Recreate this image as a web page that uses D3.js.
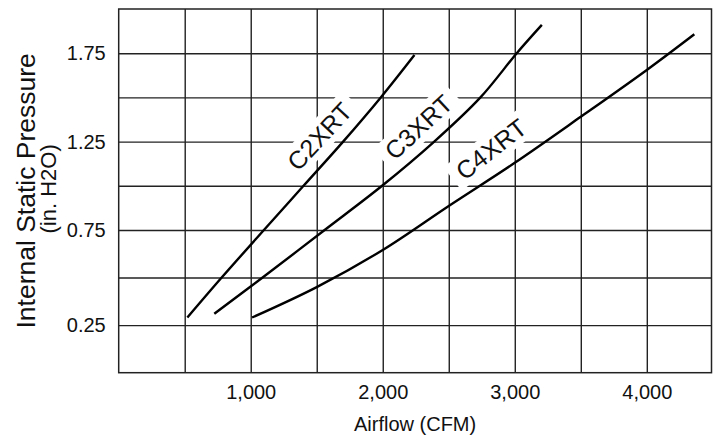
<!DOCTYPE html>
<html>
<head>
<meta charset="utf-8">
<script src="https://cdn.jsdelivr.net/npm/d3@7"></script>
<style>
  html, body { margin: 0; padding: 0; background: #fff; }
  svg { display: block; font-family: "Liberation Sans", Arial, Helvetica, sans-serif; }
</style>
</head>
<body>
<svg id="chart" width="717" height="438"></svg>
<script>
// ---- data ----
const c2xrtCfm = [520, 780, 1100, 1400, 1700, 1985, 2240];
const c2xrtPressure = [0.29, 0.5, 0.75, 1.0, 1.25, 1.5, 1.74];
const c3xrtCfm = [724, 1090, 1560, 1995, 2390, 2740, 3015, 3205];
const c3xrtPressure = [0.31, 0.5, 0.75, 1.0, 1.25, 1.5, 1.75, 1.91];
const c4xrtCfm = [1010, 1500, 2000, 2500, 3000, 3500, 4000, 4360];
const c4xrtPressure = [0.29, 0.45, 0.645, 0.886, 1.13, 1.39, 1.655, 1.857];
const seriesNames = ["C2XRT", "C3XRT", "C4XRT"];
const xTickValues = [1000, 2000, 3000, 4000];
const yTickValues = [0.25, 0.75, 1.25, 1.75];
const xGridValues = [500, 1000, 1500, 2000, 2500, 3000, 3500, 4000];
const yGridValues = [0.25, 0.5, 0.75, 1.0, 1.25, 1.5, 1.75];
const xTitle = "Airflow (CFM)";
const yTitle = "Internal Static Pressure";
const ySubTitle = "(in. H2O)";

// ---- layout ----
const L = 118.7, R = 711.5, T = 9, B = 372.7;
const svg = d3.select("#chart");

const x = d3.scaleLinear().domain([0, 4490]).range([L, R]);
// the drawn grid rows are slightly uneven in the original: lower rows taller
const y = d3.scaleLinear().domain([0, 0.75, 2.0]).range([B, 230, T]);

const gridColor = "#222";
const textColor = "#111";

// grid
svg.append("g")
  .attr("transform", `translate(0,${B})`)
  .call(d3.axisBottom(x).tickValues(xGridValues).tickSize(-(B - T)).tickFormat(""))
  .call(g => g.select(".domain").remove())
  .call(g => g.selectAll("line").attr("stroke", gridColor).attr("stroke-width", 1.4));
svg.append("g")
  .attr("transform", `translate(${L},0)`)
  .call(d3.axisLeft(y).tickValues(yGridValues).tickSize(-(R - L)).tickFormat(""))
  .call(g => g.select(".domain").remove())
  .call(g => g.selectAll("line").attr("stroke", gridColor).attr("stroke-width", 1.4));

// frame
svg.append("rect")
  .attr("x", L).attr("y", T).attr("width", R - L).attr("height", B - T)
  .attr("fill", "none").attr("stroke", gridColor).attr("stroke-width", 1.5);

// tick labels
svg.append("g")
  .attr("transform", `translate(0,${B})`)
  .call(d3.axisBottom(x).tickValues(xTickValues).tickSize(0).tickPadding(12).tickFormat(d3.format(",")))
  .call(g => g.select(".domain").remove())
  .call(g => g.selectAll("text").attr("font-size", 20).attr("fill", textColor)
    .attr("font-family", "Liberation Sans, Arial, sans-serif"));
svg.append("g")
  .attr("transform", `translate(${L},0)`)
  .call(d3.axisLeft(y).tickValues(yTickValues).tickSize(0).tickPadding(13).tickFormat(d3.format(".2f")))
  .call(g => g.select(".domain").remove())
  .call(g => g.selectAll("text").attr("font-size", 20).attr("fill", textColor)
    .attr("font-family", "Liberation Sans, Arial, sans-serif"));

// axis titles
svg.append("text")
  .attr("x", (L + R) / 2).attr("y", 431)
  .attr("text-anchor", "middle").attr("font-size", 20).attr("fill", textColor)
  .text(xTitle);
svg.append("text")
  .attr("transform", `translate(35,${(T + B) / 2}) rotate(-90)`)
  .attr("text-anchor", "middle").attr("font-size", 26.5).attr("fill", textColor)
  .text(yTitle);
svg.append("text")
  .attr("transform", `translate(56,${(T + B) / 2 - 2}) rotate(-90)`)
  .attr("text-anchor", "middle").attr("font-size", 22).attr("fill", textColor)
  .text(ySubTitle);

// series
const series = [
  { name: seriesNames[0], cfm: c2xrtCfm, p: c2xrtPressure, lx: 1520, ly: 1.28, angle: -47 },
  { name: seriesNames[1], cfm: c3xrtCfm, p: c3xrtPressure, lx: 2270, ly: 1.333, angle: -43 },
  { name: seriesNames[2], cfm: c4xrtCfm, p: c4xrtPressure, lx: 2820, ly: 1.208, angle: -38 }
];
const labelSize = 25;

// label background boxes (break the grid) — below the curves
const boxG = svg.append("g");
const line = d3.line()
  .x(d => x(d[0])).y(d => y(d[1]))
  .curve(d3.curveCatmullRom.alpha(0.5));
const curveG = svg.append("g");
const textG = svg.append("g");

series.forEach(s => {
  const tg = textG.append("g")
    .attr("transform", `translate(${x(s.lx)},${y(s.ly)}) rotate(${s.angle})`);
  const t = tg.append("text")
    .attr("text-anchor", "middle").attr("dy", "0.36em")
    .attr("font-size", labelSize).attr("fill", textColor)
    .text(s.name);
  const bb = t.node().getBBox();
  boxG.append("rect")
    .attr("transform", `translate(${x(s.lx)},${y(s.ly)}) rotate(${s.angle})`)
    .attr("x", bb.x - 8).attr("y", bb.y - 1)
    .attr("width", bb.width + 16).attr("height", bb.height + 2)
    .attr("fill", "#fff");
});

curveG.selectAll("path")
  .data(series)
  .join("path")
  .attr("d", s => line(s.cfm.map((c, i) => [c, s.p[i]])))
  .attr("fill", "none").attr("stroke", "#000").attr("stroke-width", 2.4)
  .attr("stroke-linecap", "butt");
</script>
</body>
</html>
